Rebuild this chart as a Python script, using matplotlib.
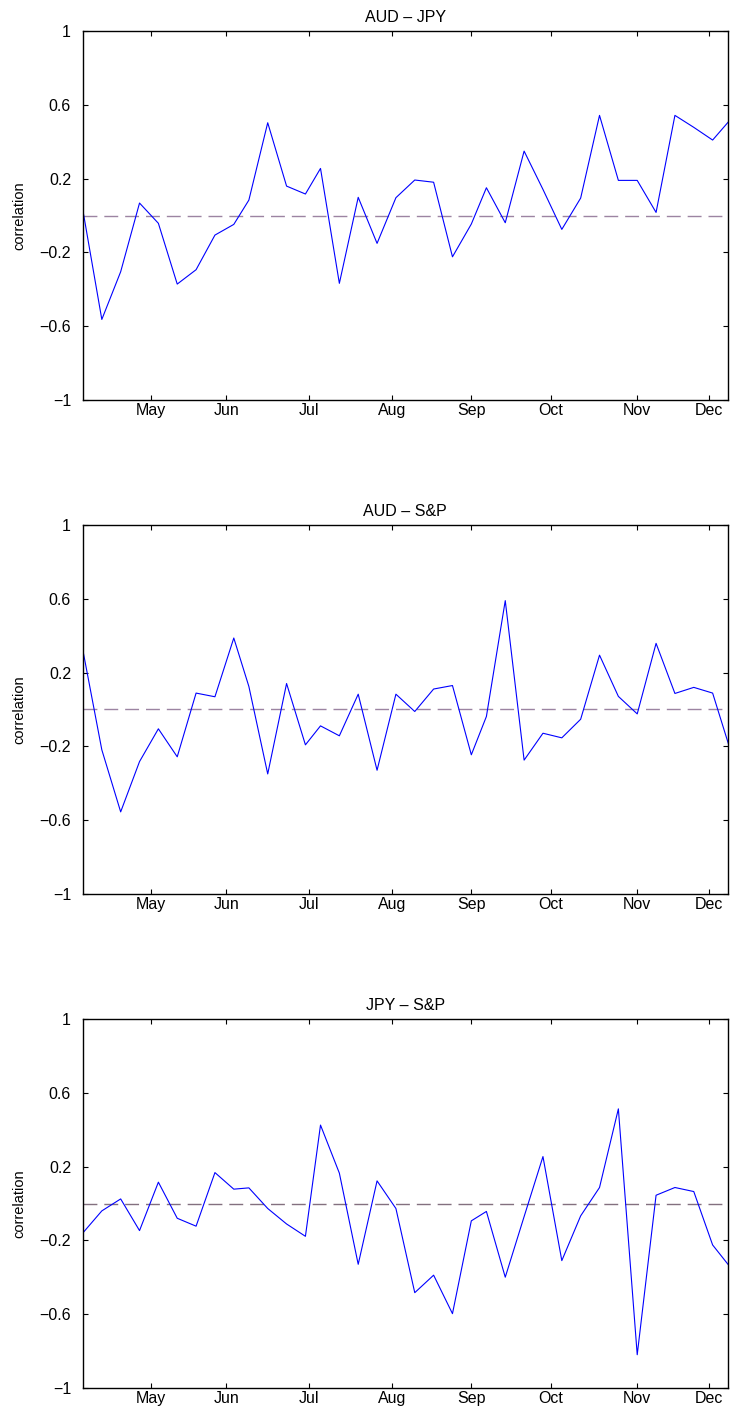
import matplotlib
matplotlib.use('Agg')
import matplotlib.pyplot as plt

# Trading-day offset of each weekly observation (4-day weeks where holidays fall)
trading_day = [0, 5, 10, 15, 20, 25, 30, 35, 40, 44, 49, 54, 59, 63, 68, 73, 78, 83,
               88, 93, 98, 103, 107, 112, 117, 122, 127, 132, 137, 142, 147, 152,
               157, 162, 167, 172]

aud_jpy = [0.026, -0.564, -0.305, 0.068, -0.042, -0.372, -0.294, -0.106, -0.048, 0.084,
           0.504, 0.160, 0.117, 0.256, -0.368, 0.099, -0.151, 0.097, 0.193, 0.181,
           -0.224, -0.046, 0.151, -0.039, 0.350, 0.142, -0.075, 0.095, 0.544, 0.191,
           0.191, 0.017, 0.544, 0.479, 0.410, 0.528]

aud_sp = [0.319, -0.219, -0.556, -0.283, -0.105, -0.257, 0.089, 0.069, 0.388, 0.125,
          -0.350, 0.141, -0.192, -0.089, -0.143, 0.083, -0.330, 0.083, -0.011, 0.111,
          0.130, -0.246, -0.038, 0.591, -0.275, -0.129, -0.154, -0.053, 0.295, 0.071,
          -0.024, 0.359, 0.087, 0.120, 0.089, -0.240]

jpy_sp = [-0.159, -0.040, 0.025, -0.147, 0.116, -0.080, -0.123, 0.168, 0.078, 0.085,
          -0.027, -0.111, -0.178, 0.426, 0.165, -0.330, 0.123, -0.027, -0.484, -0.389,
          -0.598, -0.094, -0.043, -0.400, -0.071, 0.255, -0.310, -0.067, 0.087, 0.514,
          -0.821, 0.045, 0.087, 0.065, -0.225, -0.354]

titles = ['AUD \u2013 JPY', 'AUD \u2013 S&P', 'JPY \u2013 S&P']
series = [aud_jpy, aud_sp, jpy_sp]

month_ticks = [18, 38, 60, 82, 103, 124, 147, 166]
month_labels = ['May', 'Jun', 'Jul', 'Aug', 'Sep', 'Oct', 'Nov', 'Dec']
y_ticks = [-1, -0.6, -0.2, 0.2, 0.6, 1]
y_labels = ['\u22121', '\u22120.6', '\u22120.2', '0.2', '0.6', '1']

plt.rcParams['font.family'] = ['Liberation Sans', 'DejaVu Sans']

fig = plt.figure(figsize=(7.31, 14.14), dpi=100)
bottoms = [0.7173, 0.3680, 0.0186]
zero_colors = ['#9c84a2', '#9c84a2', '#83707f']

for title, vals, b, zc in zip(titles, series, bottoms, zero_colors):
    ax = fig.add_axes([0.1135, b, 0.882, 0.2605])
    ax.axhline(0, color=zc, lw=1.0, dashes=(10, 5), zorder=1)
    ax.plot(trading_day, vals, color='#0000ff', lw=0.8, zorder=2)
    ax.set_xlim(0, 171)
    ax.set_ylim(-1, 1)
    ax.set_xticks(month_ticks)
    ax.set_xticklabels(month_labels)
    ax.set_yticks(y_ticks)
    ax.set_yticklabels(y_labels)
    ax.tick_params(direction='in', top=True, right=True, length=3.5, width=0.8,
                   labelsize=11.5)
    ax.tick_params(axis='y', pad=8.6)
    ax.tick_params(axis='x', pad=2.4)
    for s in ax.spines.values():
        s.set_linewidth(1.0)
    ax.set_title(title, fontsize=11.5, pad=7)
    ax.set_ylabel('correlation', fontsize=10.5)
    ax.yaxis.set_label_coords(-0.088, 0.5)

fig.savefig('out.png', dpi=100)
